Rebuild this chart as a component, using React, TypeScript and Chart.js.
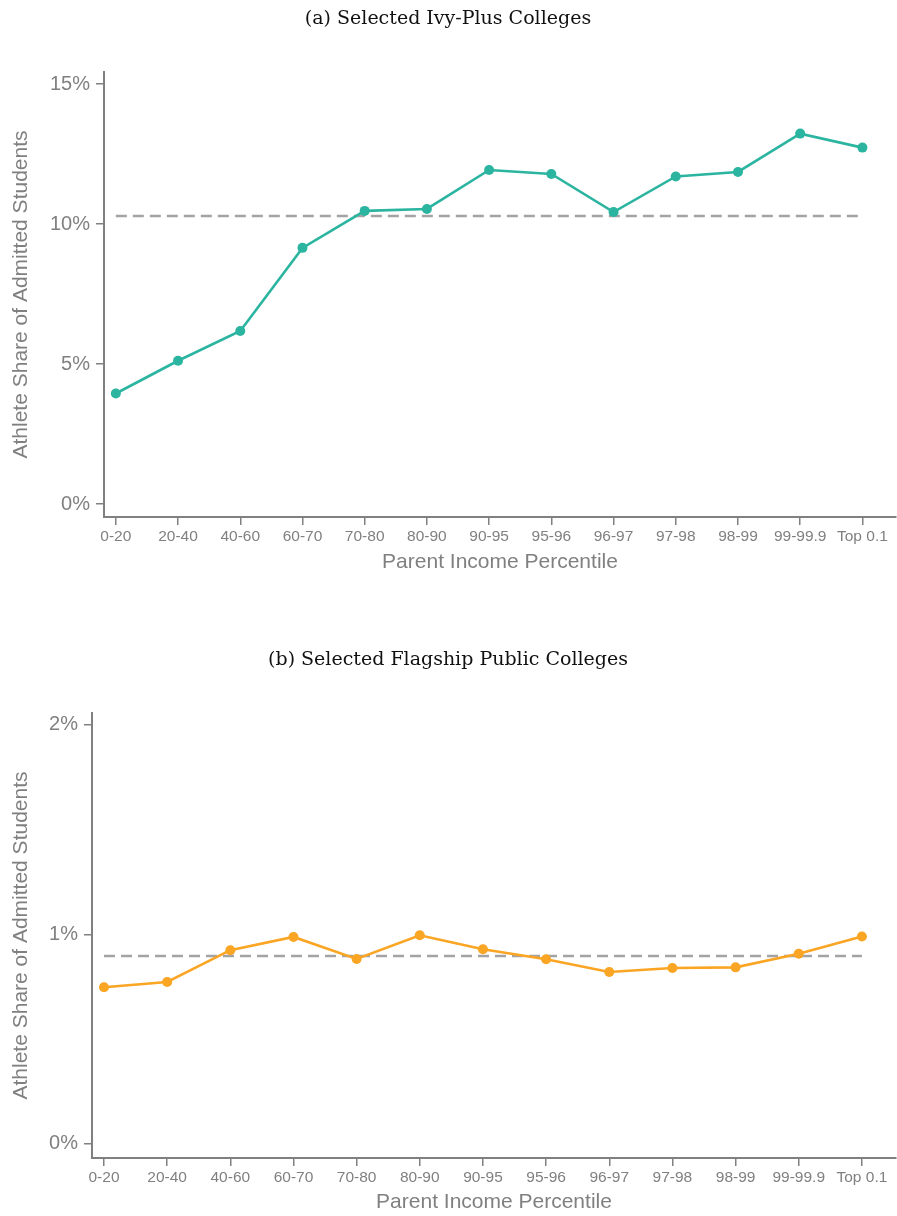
import React, { useEffect, useRef } from "react";
import { Chart, registerables } from "chart.js";

Chart.register(...registerables);

// ---- Data ----
const categories = [
  "0-20", "20-40", "40-60", "60-70", "70-80", "80-90", "90-95",
  "95-96", "96-97", "97-98", "98-99", "99-99.9", "Top 0.1",
];
const ivyShare = [3.95, 5.12, 6.18, 9.15, 10.47, 10.54, 11.93, 11.79, 10.43, 11.7, 11.86, 13.23, 12.73];
const ivyAverage = 10.29;
const ivyTicks = [0, 5, 10, 15];

const flagshipShare = [0.748, 0.773, 0.925, 0.988, 0.883, 0.996, 0.929, 0.882, 0.821, 0.84, 0.843, 0.908, 0.99];
const flagshipAverage = 0.897;
const flagshipTicks = [0, 1, 2];

const titleA = "(a) Selected Ivy-Plus Colleges";
const titleB = "(b) Selected Flagship Public Colleges";
const xTitle = "Parent Income Percentile";
const yTitle = "Athlete Share of Admitted Students";

const GRAY = "#808080";
const SANS = "'Liberation Sans', Arial, Helvetica, sans-serif";
const SERIF = "'DejaVu Serif', serif";

type PanelOpts = {
  title: string;
  values: number[];
  avg: number;
  ticks: number[];
  color: string;
  yMin: number;
  yMax: number;
  yWidth: number;
  xHeight: number;
  titlePad: { top: number; bottom: number };
  xTitlePadBottom: number;
};

function makeConfig(o: PanelOpts): any {
  return {
    type: "line",
    data: {
      datasets: [
        {
          data: o.values.map((v, i) => ({ x: i, y: v })),
          borderColor: o.color,
          backgroundColor: o.color,
          borderWidth: 2.6,
          pointRadius: 5,
          pointBorderWidth: 0,
          pointBackgroundColor: o.color,
          tension: 0,
          clip: false,
        },
        {
          data: [
            { x: 0, y: o.avg },
            { x: categories.length - 1, y: o.avg },
          ],
          borderColor: "#a3a3a3",
          borderWidth: 2.6,
          borderDash: [11, 6],
          pointRadius: 0,
          tension: 0,
        },
      ],
    },
    options: {
      responsive: false,
      animation: false,
      devicePixelRatio: 1,
      layout: { autoPadding: false, padding: { left: 0, right: 1, top: 0, bottom: 0 } },
      plugins: {
        legend: { display: false },
        tooltip: { enabled: false },
        title: {
          display: true,
          text: o.title,
          color: "#111111",
          font: { family: SERIF, size: 19, weight: "normal" },
          padding: o.titlePad,
        },
      },
      scales: {
        x: {
          type: "linear",
          min: -0.19,
          max: 12.54,
          afterBuildTicks: (scale: any) => {
            scale.ticks = categories.map((_, i) => ({ value: i }));
          },
          afterFit: (scale: any) => {
            scale.height = o.xHeight;
          },
          ticks: {
            autoSkip: false,
            maxRotation: 0,
            color: GRAY,
            padding: 2,
            font: { family: SANS, size: 15.5 },
            callback: (v: any) => categories[Math.round(Number(v))] ?? "",
          },
          grid: {
            display: true,
            drawOnChartArea: false,
            drawTicks: true,
            tickLength: 8,
            color: GRAY,
            lineWidth: 1.5,
          },
          border: { display: true, color: GRAY, width: 2 },
          title: {
            display: true,
            text: xTitle,
            color: GRAY,
            font: { family: SANS, size: 21 },
            padding: { top: 0, bottom: o.xTitlePadBottom },
          },
        },
        y: {
          type: "linear",
          min: o.yMin,
          max: o.yMax,
          afterBuildTicks: (scale: any) => {
            scale.ticks = o.ticks.map((v) => ({ value: v }));
          },
          afterFit: (scale: any) => {
            scale.width = o.yWidth;
          },
          ticks: {
            color: GRAY,
            padding: 6,
            font: { family: SANS, size: 20 },
            callback: (v: any) => `${v}%`,
          },
          grid: {
            display: true,
            drawOnChartArea: false,
            drawTicks: true,
            tickLength: 8,
            color: GRAY,
            lineWidth: 1.5,
          },
          border: { display: true, color: GRAY, width: 2 },
          title: {
            display: true,
            text: yTitle,
            color: GRAY,
            font: { family: SANS, size: 21 },
            padding: { top: 8.4, bottom: 0 },
          },
        },
      },
    },
  };
}

function Panel({ opts, height }: { opts: PanelOpts; height: number }) {
  const ref = useRef<HTMLCanvasElement | null>(null);
  useEffect(() => {
    if (!ref.current) return;
    const chart = new Chart(ref.current, makeConfig(opts));
    return () => chart.destroy();
  }, []);
  return (
    <canvas
      ref={ref}
      width={897}
      height={height}
      style={{ display: "block", width: 897, height }}
    />
  );
}

export default function App() {
  const panelA: PanelOpts = {
    title: titleA,
    values: ivyShare,
    avg: ivyAverage,
    ticks: ivyTicks,
    color: "#2bb5a0",
    yMin: -0.46,
    yMax: 15.43,
    yWidth: 104,
    xHeight: 83,
    titlePad: { top: 7.6, bottom: 41.6 },
    xTitlePadBottom: 25.4,
  };
  const panelB: PanelOpts = {
    title: titleB,
    values: flagshipShare,
    avg: flagshipAverage,
    ticks: flagshipTicks,
    color: "#faa523",
    yMin: -0.067,
    yMax: 2.057,
    yWidth: 92,
    xHeight: 58,
    titlePad: { top: 48.3, bottom: 41.9 },
    xTitlePadBottom: 1.4,
  };
  return (
    <div
      style={{
        position: "absolute",
        left: 0,
        top: 0,
        width: 897,
        height: 1216,
        overflow: "hidden",
        background: "#ffffff",
      }}
    >
      <Panel opts={panelA} height={600} />
      <Panel opts={panelB} height={616} />
    </div>
  );
}
